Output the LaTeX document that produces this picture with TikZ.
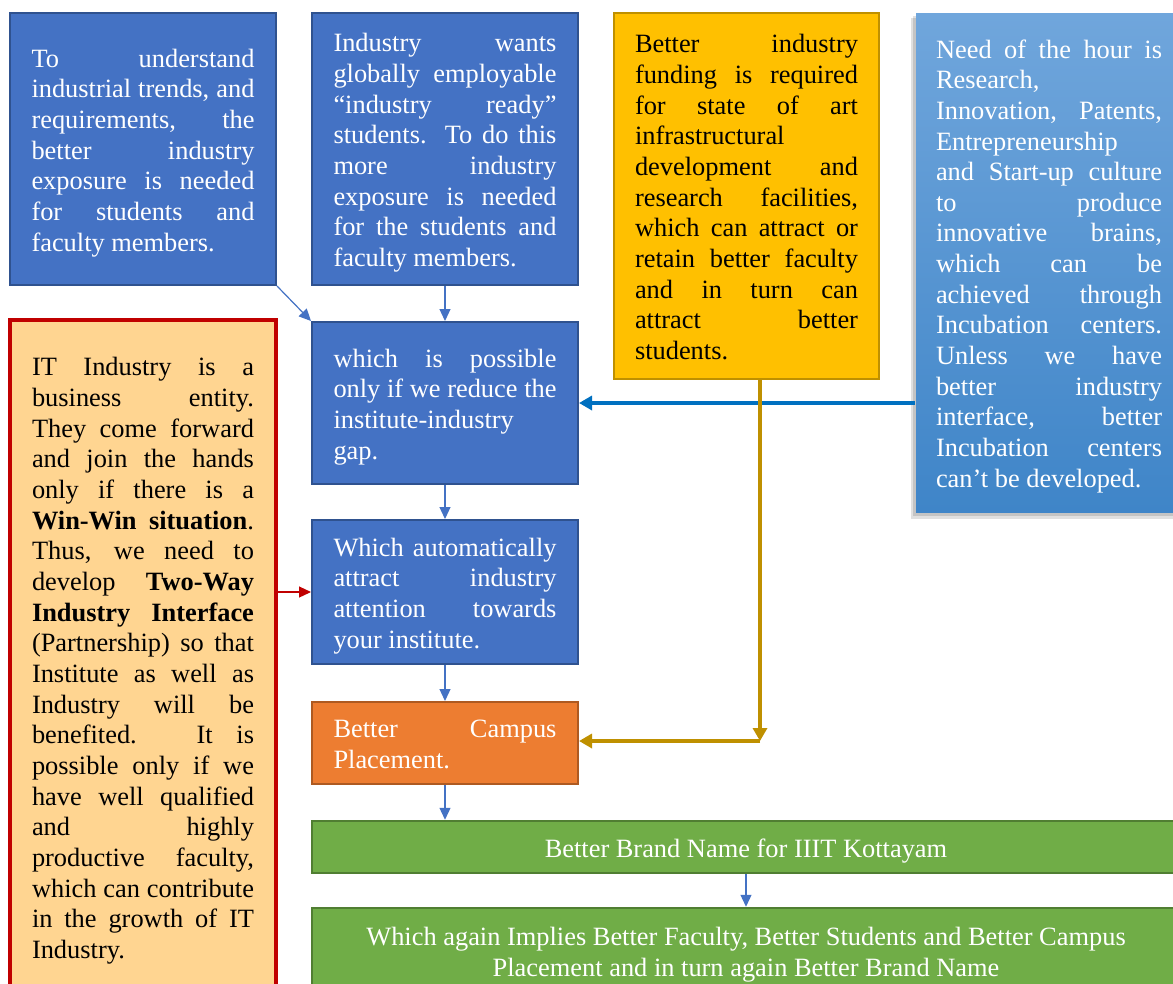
\documentclass[tikz,border=0pt]{standalone}
\usepackage{fontspec}
\setmainfont{Liberation Serif}
\usetikzlibrary{arrows.meta}
\definecolor{bfill}{HTML}{4472C4}
\definecolor{bline}{HTML}{2F528F}
\definecolor{yfill}{HTML}{FFC000}
\definecolor{yline}{HTML}{BF9000}
\definecolor{ofill}{HTML}{ED7D31}
\definecolor{oline}{HTML}{AE5A21}
\definecolor{gfill}{HTML}{70AD47}
\definecolor{gline}{HTML}{507E32}
\definecolor{lfill}{HTML}{FFD591}
\definecolor{rline}{HTML}{C00000}
\definecolor{thickblue}{HTML}{0070C0}
\definecolor{goldline}{HTML}{BF9000}
\definecolor{gtop}{HTML}{70A6DC}
\definecolor{gbot}{HTML}{3F85C8}
\newcommand\fs{\fontsize{26.4}{30.65}\selectfont}
\newcommand\JL[1]{\noindent\hbox to\hsize{\strut#1}\par}
\newcommand\LL[1]{\noindent\hbox to\hsize{\strut#1\hfil}\par}
\newcommand\CL[1]{\noindent\hbox to\hsize{\hfil\strut#1\hfil}\par}
\newcommand\TB[2][223pt]{\vbox{\hsize=#1\parskip=0pt\parindent=0pt\kern8pt #2}}
\tikzset{
  box/.style={inner sep=0pt, font=\fs, line width=2pt},
  bluebox/.style={box, draw=bline, fill=bfill, text=white},
  thinarrow/.style={draw=bfill, line width=1.2pt, -{Triangle[length=12pt,width=11pt]}},
  redarrow/.style={draw=rline, line width=1.2pt, -{Triangle[length=12pt,width=11pt]}},
  thickarrow/.style={draw=thickblue, line width=3.5pt, -{Triangle[length=13pt,width=14pt]}},
  goldarrow/.style={draw=goldline, line width=3.5pt, -{Triangle[length=13pt,width=14pt]}},
}
\begin{document}
\begin{tikzpicture}[x=1pt,y=-1pt]
\fill[white] (0,0) rectangle (1173,983);
\clip (0,0) rectangle (1173,983);

% box 1
\node[bluebox, minimum width=266pt, minimum height=272pt] (b1) at (143,149) {\TB{%
\JL{To understand}
\JL{industrial trends, and}
\JL{requirements, the}
\JL{better industry}
\JL{exposure is needed}
\JL{for students and}
\LL{faculty members.}}};

% box 2
\node[bluebox, minimum width=266pt, minimum height=272pt] (b2) at (445,149) {\TB{%
\JL{Industry wants}
\JL{globally employable}
\JL{“industry ready”}
\JL{students. To do this}
\JL{more industry}
\JL{exposure is needed}
\JL{for the students and}
\LL{faculty members.}}};

% box 3
\node[box, draw=yline, fill=yfill, text=black, minimum width=265pt, minimum height=366pt] (b3) at (746.5,196) {\TB{%
\JL{Better industry}
\JL{funding is required}
\JL{for state of art}
\LL{infrastructural}
\JL{development and}
\JL{research facilities,}
\JL{which can attract or}
\JL{retain better faculty}
\JL{and in turn can}
\JL{attract better}
\LL{students.}}};

% box 4 (shadow + gradient)
\fill[black,opacity=0.12] (911,18) rectangle (1190,519);
\fill[black,opacity=0.12] (913,16) rectangle (1190,516);
\node[box, top color=gtop, bottom color=gbot, text=white, minimum width=266pt, minimum height=499pt] (b4) at (1049,262.5) {\TB[226pt]{%
\JL{Need of the hour is}
\LL{Research,}
\JL{Innovation, Patents,}
\LL{Entrepreneurship}
\JL{and Start-up culture}
\JL{to produce}
\JL{innovative brains,}
\JL{which can be}
\JL{achieved through}
\JL{Incubation centers.}
\JL{Unless we have}
\JL{better industry}
\JL{interface, better}
\JL{Incubation centers}
\LL{can’t be developed.}}};

% box 5
\node[bluebox, minimum width=266pt, minimum height=162pt] (b5) at (445,403) {\TB{%
\JL{which is possible}
\JL{only if we reduce the}
\LL{institute-industry}
\LL{gap.}}};

% box 6
\node[bluebox, minimum width=266pt, minimum height=144pt] (b6) at (445,592) {\TB{%
\JL{Which automatically}
\JL{attract industry}
\JL{attention towards}
\LL{your institute.}}};

% box 7
\node[box, draw=oline, fill=ofill, text=white, minimum width=266pt, minimum height=82pt] (b7) at (445,743) {\TB{%
\JL{Better Campus}
\LL{Placement.}}};

% box 8
\node[box, line width=2.5pt, draw=gline, fill=gfill, text=white, minimum width=868pt, minimum height=52pt] (b8) at (746,847) {\TB[860pt]{%
\CL{Better Brand Name for IIIT Kottayam}}};

% box 9
\node[box, line width=2.5pt, draw=gline, fill=gfill, text=white, minimum width=868pt, minimum height=86pt] (b9) at (746,951) {\TB[860pt]{%
\CL{Which again Implies Better Faculty, Better Students and Better Campus}
\CL{Placement and in turn again Better Brand Name}}};

% left box
\node[box, line width=3.5pt, draw=rline, fill=lfill, text=black, minimum width=266pt, minimum height=674pt] (bl) at (143,657) {\TB[222pt]{%
\JL{IT Industry is a}
\JL{business entity.}
\JL{They come forward}
\JL{and join the hands}
\JL{only if there is a}
\JL{\textbf{Win-Win situation}.}
\JL{Thus, we need to}
\JL{develop \textbf{Two-Way}}
\JL{\textbf{Industry Interface}}
\JL{(Partnership) so that}
\JL{Institute as well as}
\JL{Industry will be}
\JL{benefited. It is}
\JL{possible only if we}
\JL{have well qualified}
\JL{and highly}
\JL{productive faculty,}
\JL{which can contribute}
\JL{in the growth of IT}
\LL{Industry.}}};

% connectors
\draw[thinarrow] (b1.south east) -- (b5.north west);
\draw[thinarrow] (b2.south) -- (b5.north);
\draw[thinarrow] (b5.south) -- (b6.north);
\draw[thinarrow] (b6.south) -- (b7.north);
\draw[thinarrow] (b7.south) -- (b7.south |- b8.north);
\draw[thinarrow] (b8.south) -- (b9.north);
\draw[thickarrow] (b4.west |- b5.east) -- (b5.east);
\draw[redarrow] (bl.east |- b6.west) -- (b6.west);
\coordinate (gc) at (760,741);
\draw[goldarrow] (b3.south -| gc) -- (gc);
\draw[goldarrow] (gc) -- (b7.east |- gc);
\end{tikzpicture}
\end{document}
